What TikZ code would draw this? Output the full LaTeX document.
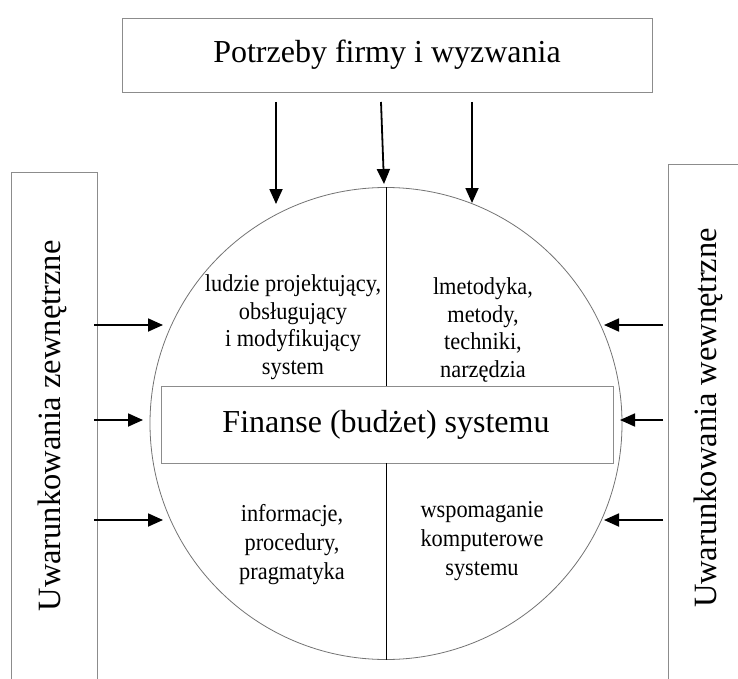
\documentclass[tikz,border=0pt]{standalone}
\usepackage{fontspec}
\setmainfont{Liberation Serif}
\newfontfamily\narrowserif[FakeStretch=0.92]{Liberation Serif}
\usetikzlibrary{arrows.meta}
\begin{document}
\begin{tikzpicture}[x=1pt,y=-1pt,
  frame/.style={draw=black!45, line width=0.9pt, inner sep=0},
  arr/.style={-{Triangle[length=15pt,width=13pt]}, line width=1.8pt},
  qtext/.style={align=center, font=\narrowserif\fontsize{24.3}{27.5}\selectfont, inner sep=0},
  qtextb/.style={align=center, font=\narrowserif\fontsize{24.3}{29}\selectfont, inner sep=0},
  big/.style={font=\fontsize{32}{36}\selectfont, inner sep=0},
  side/.style={font=\fontsize{32.5}{36}\selectfont, inner sep=0, rotate=90}]
\useasboundingbox (0,0) rectangle (738,679);
\clip (0,0) rectangle (738,679);
% top box
\node[frame, minimum width=530, minimum height=74] (top) at (387,55) {};
\node[big] (toptext) at (387,55) {Potrzeby firmy i wyzwania};
% circle
\node[circle, draw=black!55, line width=0.8pt, minimum size=472, inner sep=0] (c) at (386,423.5) {};
% finance box
\node[frame, fill=white, minimum width=452, minimum height=77] (fin) at (387,424.5) {};
\node[big] (fintext) at (386,424.5) {Finanse (budżet) systemu};
\draw[line width=0.8pt] (c.north) -- (fin.north -| c.north);
\draw[line width=0.8pt] (fin.south -| c.south) -- (c.south);
% side boxes
\node[frame, minimum width=86, minimum height=530] (lbox) at (54,437) {};
\node[side] (ltext) at (52,426) {Uwarunkowania zewnętrzne};
\node[frame, minimum width=90, minimum height=540] (rbox) at (713,434) {};
\node[side] (rtext) at (708,418) {Uwarunkowania wewnętrzne};
% quadrant texts
\node[qtext] (q1) at (293,327) {ludzie projektujący,\\obsługujący\\i modyfikujący\\system};
\node[qtext] (q2) at (483,330) {lmetodyka,\\metody,\\techniki,\\narzędzia};
\node[qtextb] (q3) at (292,545) {informacje,\\procedury,\\pragmatyka};
\node[qtextb] (q4) at (482,541) {wspomaganie\\komputerowe\\systemu};
% top arrows
\coordinate (t1) at (276,102); \coordinate (e1) at (276,204);
\coordinate (t2) at (381,102); \coordinate (e2) at (384,184);
\coordinate (t3) at (472,102); \coordinate (e3) at (472,203);
\draw[arr] (t1) -- (e1);
\draw[arr] (t2) -- (e2);
\draw[arr] (t3) -- (e3);
% left arrows
\coordinate (l1) at (94,325); \coordinate (m1) at (163,325);
\coordinate (l2) at (94,420); \coordinate (m2) at (143,420);
\coordinate (l3) at (94,520); \coordinate (m3) at (163,520);
\draw[arr] (l1) -- (m1);
\draw[arr] (l2) -- (m2);
\draw[arr] (l3) -- (m3);
% right arrows
\coordinate (r1) at (663,325); \coordinate (n1) at (604,325);
\coordinate (r2) at (663,420); \coordinate (n2) at (620,420);
\coordinate (r3) at (663,520); \coordinate (n3) at (604,520);
\draw[arr] (r1) -- (n1);
\draw[arr] (r2) -- (n2);
\draw[arr] (r3) -- (n3);
\end{tikzpicture}
\end{document}
